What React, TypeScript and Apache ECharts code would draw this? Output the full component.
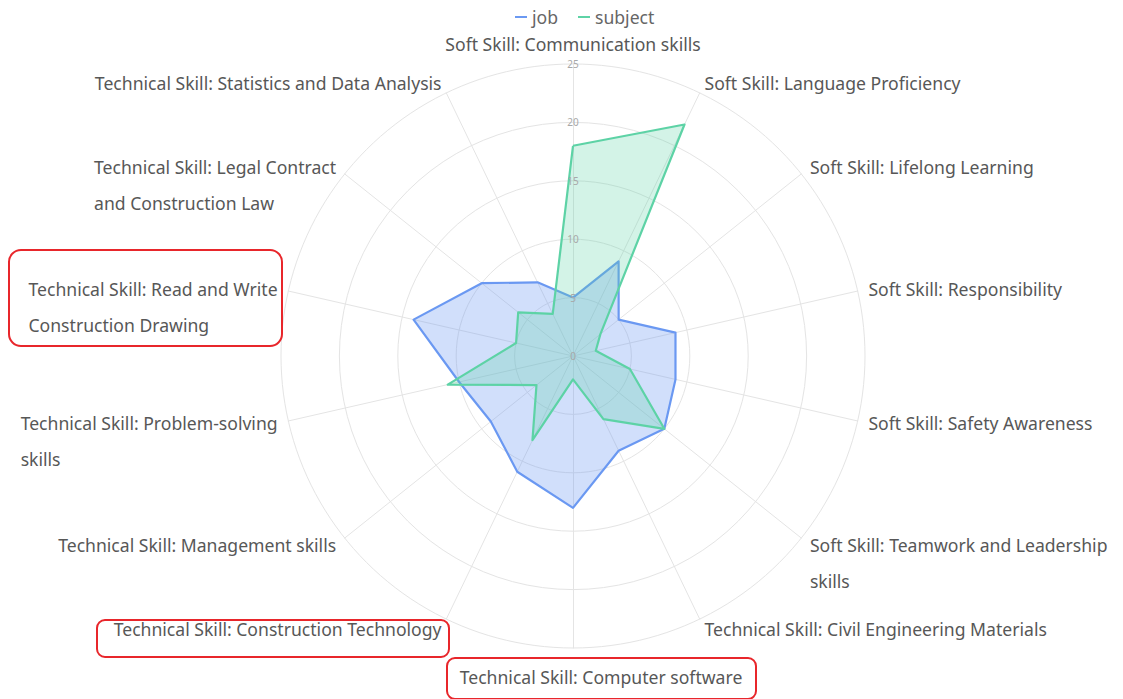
import React, { useEffect, useRef } from 'react';
import * as echarts from 'echarts';

// Categories listed clockwise starting from the top of the radar
const categories: string[] = [
  'Soft Skill: Communication skills',
  'Soft Skill: Language Proficiency',
  'Soft Skill: Lifelong Learning',
  'Soft Skill: Responsibility',
  'Soft Skill: Safety Awareness',
  'Soft Skill: Teamwork and Leadership\nskills',
  'Technical Skill: Civil Engineering Materials',
  'Technical Skill: Computer software',
  'Technical Skill: Construction Technology',
  'Technical Skill: Management skills',
  'Technical Skill: Problem-solving\nskills',
  'Technical Skill: Read and Write\nConstruction Drawing',
  'Technical Skill: Legal Contract\nand Construction Law',
  'Technical Skill: Statistics and Data Analysis',
];
const jobValues: number[] = [5, 9, 5, 9, 9, 10, 9, 13, 11, 9, 10, 14, 10, 7];
const subjectValues: number[] = [18, 22, 3, 2, 5, 10, 6, 2, 8, 4, 11, 5, 6, 4];
const seriesNames: string[] = ['job', 'subject'];
const axisMin = 0;
const axisMax = 25;
const tickStep = 5;

const FONT = '"Noto Sans", sans-serif';
const FS = 17.6;
const LABEL_COLOR = '#575757';
const JOB_COLOR = '#6b99f2';
const SUBJECT_COLOR = '#5ed3a6';

export default function App() {
  const ref = useRef<HTMLDivElement>(null);

  useEffect(() => {
    if (!ref.current) return;
    const chart = echarts.init(ref.current, null, { renderer: 'svg' });
    const n = categories.length;
    // ECharts radar runs counter-clockwise; reorder so the picture reads clockwise
    const order = categories.map((_, i) => (n - i) % n);
    const indicator = order.map((i) => ({ name: categories[i], min: axisMin, max: axisMax }));
    const jobData = order.map((i) => jobValues[i]);
    const subjectData = order.map((i) => subjectValues[i]);

    const base = { fontSize: FS, color: LABEL_COLOR, fontFamily: FONT };

    const option: any = {
      animation: false,
      textStyle: { fontFamily: FONT },
      legend: {
        top: 3,
        left: 510,
        itemWidth: 12,
        itemHeight: 2,
        itemGap: 20,
        icon: 'rect',
        textStyle: { fontSize: FS, color: '#666', fontFamily: FONT },
        data: seriesNames,
      },
      polar: { center: [573, 356], radius: 292 },
      angleAxis: { show: false, startAngle: 90, min: 0, max: 360 },
      radiusAxis: {
        min: axisMin,
        max: axisMax,
        interval: tickStep,
        z: 10,
        axisLine: { show: false },
        axisTick: { show: false },
        splitLine: { show: false },
        axisLabel: {
          show: true,
          margin: 0,
          align: 'center',
          verticalAlign: 'middle',
          fontSize: 10,
          color: '#a8a8a8',
          fontFamily: FONT,
        },
      },
      radar: {
        center: [573, 356],
        radius: 292,
        startAngle: 90,
        shape: 'circle',
        splitNumber: 5,
        nameGap: 11,
        indicator,
        axisName: {
          ...base,
          formatter: (name: string) => {
            const lines = name.split('\n');
            if (lines.length > 1) {
              return '{g| }\n' + lines.map((l) => '{l|' + l + '}').join('\n');
            }
            if (name.indexOf('Computer') >= 0) return '{b|' + name + '}';
            return '{s|' + name + '}';
          },
          rich: {
            s: { ...base, lineHeight: 18 },
            b: { ...base, lineHeight: 36, padding: [0, 0, 0, 56] },
            g: { ...base, lineHeight: 36, align: 'left' },
            l: { ...base, lineHeight: 36, align: 'left' },
          },
        },
        axisLine: { lineStyle: { color: '#e4e4e4', width: 1 } },
        splitLine: { lineStyle: { color: '#e4e4e4', width: 1 } },
        splitArea: { show: false },
      },
      graphic: [
        { type: 'rect', shape: { x: 9, y: 250, width: 273, height: 96, r: 12 }, style: { fill: 'none', stroke: '#e8262b', lineWidth: 2 }, z: 20 },
        { type: 'rect', shape: { x: 97, y: 620, width: 352, height: 37, r: 8 }, style: { fill: 'none', stroke: '#e8262b', lineWidth: 2 }, z: 20 },
        { type: 'rect', shape: { x: 447, y: 658, width: 309, height: 41, r: 8 }, style: { fill: 'none', stroke: '#e8262b', lineWidth: 2 }, z: 20 },
      ],
      series: [
        {
          name: seriesNames[0],
          type: 'radar',
          symbol: 'none',
          itemStyle: { color: JOB_COLOR },
          lineStyle: { color: JOB_COLOR, width: 2.2 },
          areaStyle: { color: 'rgba(107,153,242,0.31)', opacity: 1 },
          data: [{ value: jobData, name: seriesNames[0] }],
        },
        {
          name: seriesNames[1],
          type: 'radar',
          symbol: 'none',
          itemStyle: { color: SUBJECT_COLOR },
          lineStyle: { color: SUBJECT_COLOR, width: 2.2 },
          areaStyle: { color: 'rgba(94,211,166,0.27)', opacity: 1 },
          data: [{ value: subjectData, name: seriesNames[1] }],
        },
      ],
    };
    chart.setOption(option);
    return () => chart.dispose();
  }, []);

  return (
    <div
      ref={ref}
      style={{ position: 'fixed', left: 0, top: 0, width: 1123, height: 699, background: '#fff' }}
    />
  );
}
